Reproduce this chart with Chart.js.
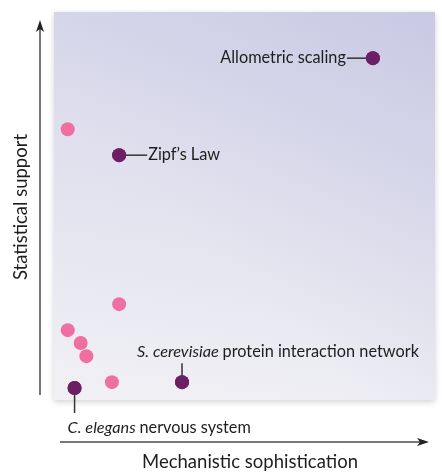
<!DOCTYPE html>
<html>
<head>
<meta charset="utf-8">
<script src="https://cdn.jsdelivr.net/npm/chart.js@4.4.1/dist/chart.umd.min.js"></script>
<style>
  html, body { margin: 0; padding: 0; background: #fff; }
  #wrap { width: 442px; height: 473px; }
</style>
</head>
<body>
<div id="wrap"><canvas id="chart" width="442" height="473"></canvas></div>
<script>
// named studies (dark purple) and the unnamed ones (pink)
const namedX = [83.7, 17.1, 33.6, 5.4]
const namedY = [88.1, 63.1, 4.6, 3.1]
const namedLabels = ["Allometric scaling", "Zipf\u2019s Law", "S. cerevisiae protein interaction network", "C. elegans nervous system"]
const otherX = [3.6, 17.1, 3.6, 7.0, 8.5, 15.2]
const otherY = [69.8, 24.7, 18.0, 14.7, 11.3, 4.6]

const xTitle = "Mechanistic sophistication"
const yTitle = "Statistical support"

const FONT = "Lato, 'Open Sans', sans-serif"
const INK = "#1e1e1e"
const LABEL = "16.3px "
const TITLE = "18.5px "

const toPoints = (xs, ys) => xs.map((x, i) => ({ x: x, y: ys[i] }))

// gradient panel behind the points
const panelPlugin = {
  id: "panel",
  beforeDraw(chart) {
    const { ctx, chartArea: a } = chart
    const w = a.right - a.left, h = a.bottom - a.top
    ctx.save()
    ctx.shadowColor = "rgba(0,0,0,0.18)"
    ctx.shadowBlur = 6
    ctx.shadowOffsetY = 2
    const g = ctx.createLinearGradient(0, a.bottom, 0, a.top)
    g.addColorStop(0, "#f1f1f5")
    g.addColorStop(1, "#dadaec")
    ctx.fillStyle = g
    ctx.fillRect(a.left, a.top, w, h)
    ctx.restore()
    ctx.save()
    const g2 = ctx.createLinearGradient(a.left, a.bottom, a.right, a.top)
    g2.addColorStop(0, "rgba(175,175,215,0)")
    g2.addColorStop(0.4, "rgba(175,175,215,0.05)")
    g2.addColorStop(1, "rgba(175,175,215,0.4)")
    ctx.fillStyle = g2
    ctx.fillRect(a.left, a.top, w, h)
    ctx.restore()
  }
}

function arrowHead(ctx, x, y, dir) {
  ctx.beginPath()
  if (dir === "up") {
    ctx.moveTo(x, y); ctx.lineTo(x - 4, y + 12); ctx.lineTo(x, y + 9); ctx.lineTo(x + 4, y + 12)
  } else {
    ctx.moveTo(x, y); ctx.lineTo(x - 12, y - 4); ctx.lineTo(x - 9, y); ctx.lineTo(x - 12, y + 4)
  }
  ctx.closePath()
  ctx.fill()
}

function mixedLabel(ctx, text, x, y) {
  // first two words (species name) in italics
  const parts = text.split(" ")
  const head = parts.slice(0, 2).join(" ") + " "
  ctx.font = "italic " + LABEL + FONT
  ctx.fillText(head, x, y)
  const dx = ctx.measureText(head).width
  ctx.font = LABEL + FONT
  ctx.fillText(parts.slice(2).join(" "), x + dx, y)
}

// arrows, axis titles and the call-out labels
const annotatePlugin = {
  id: "annotate",
  afterDraw(chart) {
    const { ctx, chartArea: a } = chart
    const pts = chart.getDatasetMeta(1).data
    ctx.save()
    ctx.strokeStyle = "#4a4a4a"
    ctx.fillStyle = "#222"
    ctx.lineWidth = 1.5

    // y arrow
    const ax = a.left - 14
    ctx.beginPath(); ctx.moveTo(ax, a.bottom - 5); ctx.lineTo(ax, a.top + 14); ctx.stroke()
    arrowHead(ctx, ax, a.top + 8, "up")
    // x arrow
    const ay = a.bottom + 42
    ctx.beginPath(); ctx.moveTo(a.left + 6, ay); ctx.lineTo(a.right - 12, ay); ctx.stroke()
    arrowHead(ctx, a.right - 6, ay, "right")

    ctx.fillStyle = INK
    ctx.font = TITLE + FONT
    ctx.textAlign = "center"
    ctx.textBaseline = "middle"
    ctx.fillText(xTitle, 250, ay + 20)
    ctx.save()
    ctx.translate(21, 207)
    ctx.rotate(-Math.PI / 2)
    ctx.fillText(yTitle, 0, 0)
    ctx.restore()

    ctx.strokeStyle = "#333"
    ctx.lineWidth = 1.5
    ctx.font = LABEL + FONT
    ctx.textBaseline = "middle"

    // Allometric scaling: text to the left
    let p = pts[0]
    ctx.beginPath(); ctx.moveTo(p.x - 26, p.y); ctx.lineTo(p.x, p.y); ctx.stroke()
    ctx.textAlign = "right"
    ctx.fillText(namedLabels[0], p.x - 27, p.y)

    // Zipf's Law: text to the right
    p = pts[1]
    ctx.beginPath(); ctx.moveTo(p.x, p.y); ctx.lineTo(p.x + 28, p.y); ctx.stroke()
    ctx.textAlign = "left"
    ctx.fillText(namedLabels[1], p.x + 29, p.y)

    // S. cerevisiae: text above
    p = pts[2]
    ctx.beginPath(); ctx.moveTo(p.x, p.y - 19); ctx.lineTo(p.x, p.y); ctx.stroke()
    ctx.textBaseline = "alphabetic"
    mixedLabel(ctx, namedLabels[2], p.x - 45, p.y - 25)

    // C. elegans: text below
    p = pts[3]
    ctx.beginPath(); ctx.moveTo(p.x, p.y); ctx.lineTo(p.x, p.y + 25); ctx.stroke()
    mixedLabel(ctx, namedLabels[3], p.x - 7, p.y + 45)

    // redraw named points above the leader lines
    ctx.fillStyle = "#6d1f66"
    pts.forEach(pt => { ctx.beginPath(); ctx.arc(pt.x, pt.y, 7, 0, Math.PI * 2); ctx.fill() })
    ctx.restore()
  }
}

new Chart(document.getElementById("chart"), {
  type: "scatter",
  data: {
    datasets: [
      {
        label: "other",
        data: toPoints(otherX, otherY),
        backgroundColor: "#ef6fa1",
        borderWidth: 0,
        pointRadius: 7
      },
      {
        label: "named",
        data: toPoints(namedX, namedY),
        backgroundColor: "#6d1f66",
        borderWidth: 0,
        pointRadius: 7
      }
    ]
  },
  options: {
    responsive: false,
    animation: false,
    layout: { padding: { left: 54, top: 12, right: 1, bottom: 73 } },
    plugins: { legend: { display: false }, tooltip: { enabled: false } },
    scales: {
      x: { type: "linear", min: 0, max: 100, display: false },
      y: { type: "linear", min: 0, max: 100, display: false }
    }
  },
  plugins: [panelPlugin, annotatePlugin]
})
</script>
</body>
</html>
